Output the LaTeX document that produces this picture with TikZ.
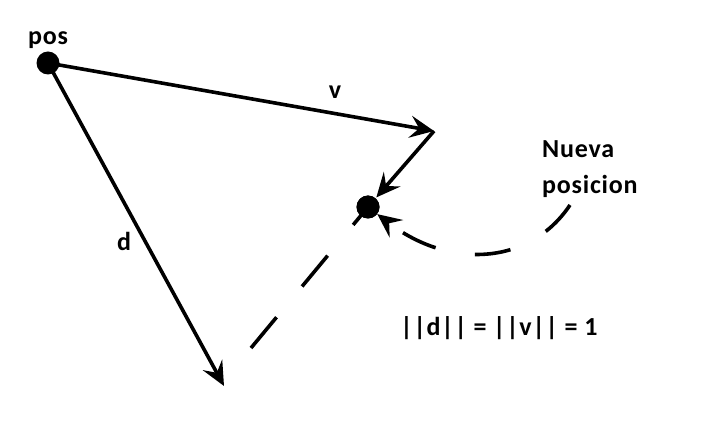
\documentclass[tikz,border=0pt]{standalone}
\usepackage{fontspec}
\setmainfont{Carlito}[LetterSpace=3]
\usetikzlibrary{arrows.meta}
\begin{document}
\begin{tikzpicture}[x=1pt,y=-1pt,
  vec/.style={line width=3.6pt,-{Stealth[length=24pt,width=22pt,inset=9pt]}},
  dot/.style={circle,fill=black,inner sep=0pt,minimum size=23pt},
  lbl/.style={font=\bfseries\fontsize{26}{36}\selectfont,inner sep=0pt},
  dsh/.style={line width=3.6pt,dash pattern=on 40pt off 40pt}]
\useasboundingbox (0,0) rectangle (701,438);
\node[dot] (pos) at (48,63) {};
\node[dot] (np) at (368,207) {};
\coordinate (vend) at (434,131);
\coordinate (dend) at (224,386);
\coordinate (dsh0) at (251,348);
\coordinate (cstart) at (570,205);
\node[lbl] (lpos) at (48,40) {pos};
\node[lbl] (lv) at (335,92) {v};
\node[lbl] (ld) at (124,241) {d};
\node[lbl,align=left,anchor=north west] (lnp) at (542,140) {Nueva\\posicion};
\node[lbl] (leq) at (499,328) {||d|| = ||v|| = 1};
\draw[vec] (pos.center) -- (vend);
\draw[vec] (pos.center) -- (dend);
\draw[vec,shorten >=1pt] (vend) -- (np);
\draw[dsh] (dsh0) -- (np.center);
\draw[dsh,dash pattern=on 36pt off 40pt,-{Stealth[length=24pt,width=22pt,inset=9pt]}] (cstart) .. controls (530,265) and (450,270) .. (np);
\node[dot] at (np) {};
\end{tikzpicture}
\end{document}
